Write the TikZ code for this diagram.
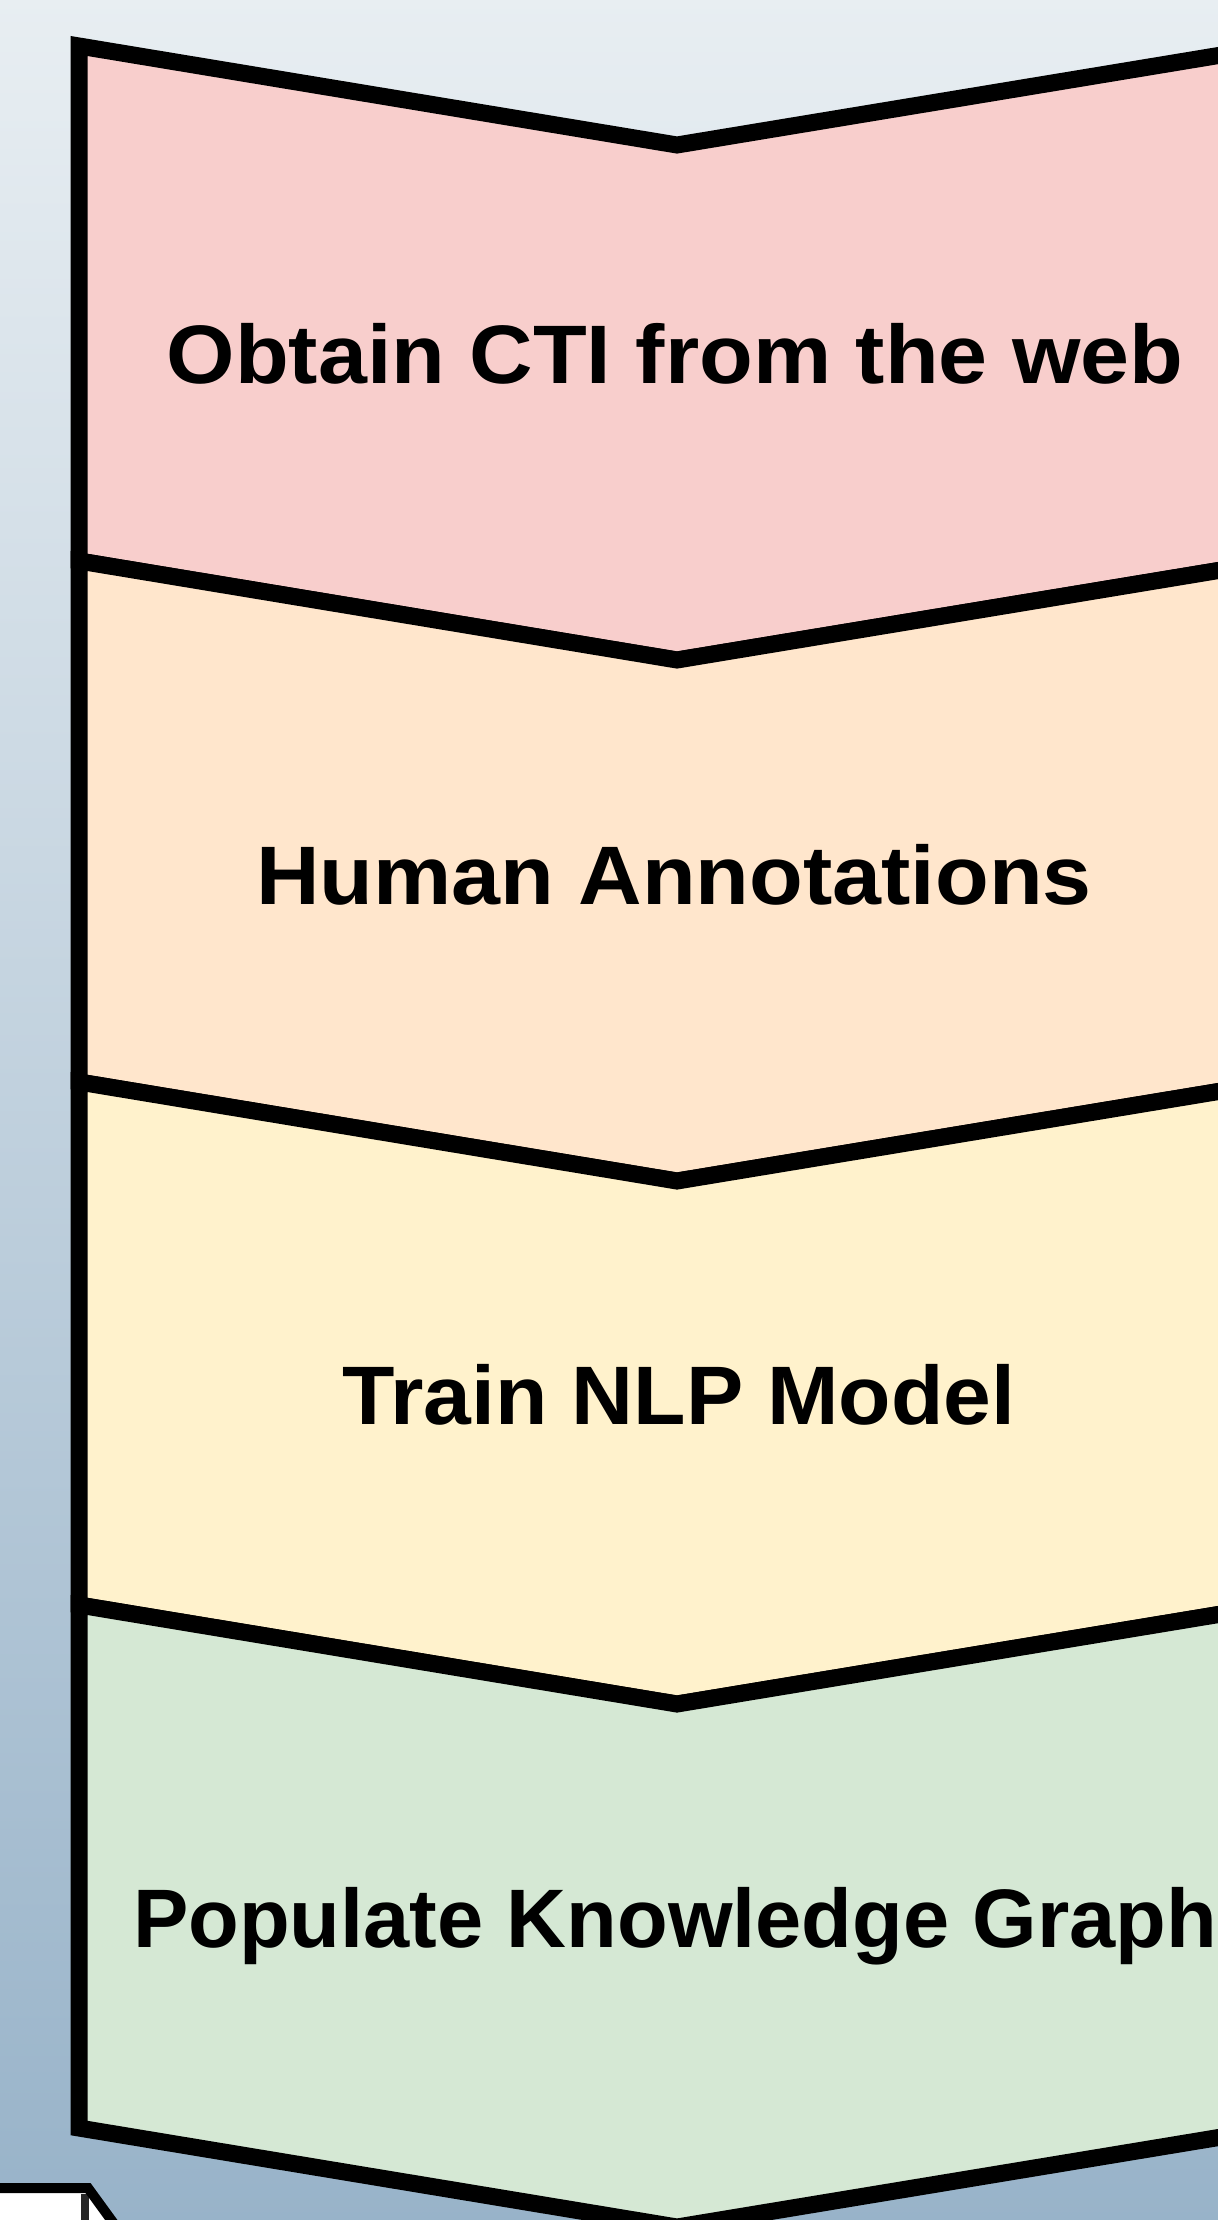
\documentclass[tikz,border=0pt]{standalone}
\usepackage{fontspec}
\setmainfont{Liberation Sans}
\usepackage{graphicx}
\definecolor{cA}{HTML}{F8CECC}
\definecolor{cB}{HTML}{FFE6CC}
\definecolor{cC}{HTML}{FFF2CC}
\definecolor{cD}{HTML}{D5E8D4}
\definecolor{bgTop}{HTML}{E8EEF2}
\definecolor{bgBot}{HTML}{98B3C9}
\begin{document}
\begin{tikzpicture}[x=0.5pt,y=-0.5pt,
  stepline/.style={line width=8.5pt, draw=black, line join=miter, miter limit=10},
  steplabel/.style={anchor=base, inner sep=0pt, font=\fontsize{41.5}{48}\selectfont\bfseries, text=black}]
\useasboundingbox (0,0) rectangle (1218,2220);
\begin{scope}
\clip (0,0) rectangle (1218,2220);
\shade[top color=bgTop, bottom color=bgBot] (-5,-5) rectangle (1223,2225);
% chevron steps
\filldraw[stepline, fill=cA] (79,46) -- (677,145) -- (1276,46) -- (1276,561) -- (677,660) -- (79,561) -- cycle;
\filldraw[stepline, fill=cB] (79,561) -- (677,660) -- (1276,561) -- (1276,1082) -- (677,1181) -- (79,1082) -- cycle;
\filldraw[stepline, fill=cC] (79,1082) -- (677,1181) -- (1276,1082) -- (1276,1605) -- (677,1704) -- (79,1605) -- cycle;
\filldraw[stepline, fill=cD] (79,1605) -- (677,1704) -- (1276,1605) -- (1276,2128) -- (677,2227) -- (79,2128) -- cycle;
% labels
\node[steplabel] (t1) at (675,384) {\scalebox{1.06}[1]{Obtain CTI from the web}};
\node[steplabel] (t2) at (674,904) {\scalebox{1.06}[1]{Human Annotations}};
\node[steplabel] (t3) at (679,1424) {\scalebox{1.034}[1]{Train NLP Model}};
\node[steplabel] (t4) at (675,1947) {Populate Knowledge Graph};
% partial shape at bottom left
\fill[white] (-10,2188) -- (88,2188) -- (120,2232) -- (-10,2232) -- cycle;
\draw[line width=4pt, black!85] (85,2194) -- (85,2232);
\draw[line width=5pt, line join=miter] (-10,2188) -- (88,2188) -- (120,2232);
\end{scope}
\end{tikzpicture}
\end{document}
